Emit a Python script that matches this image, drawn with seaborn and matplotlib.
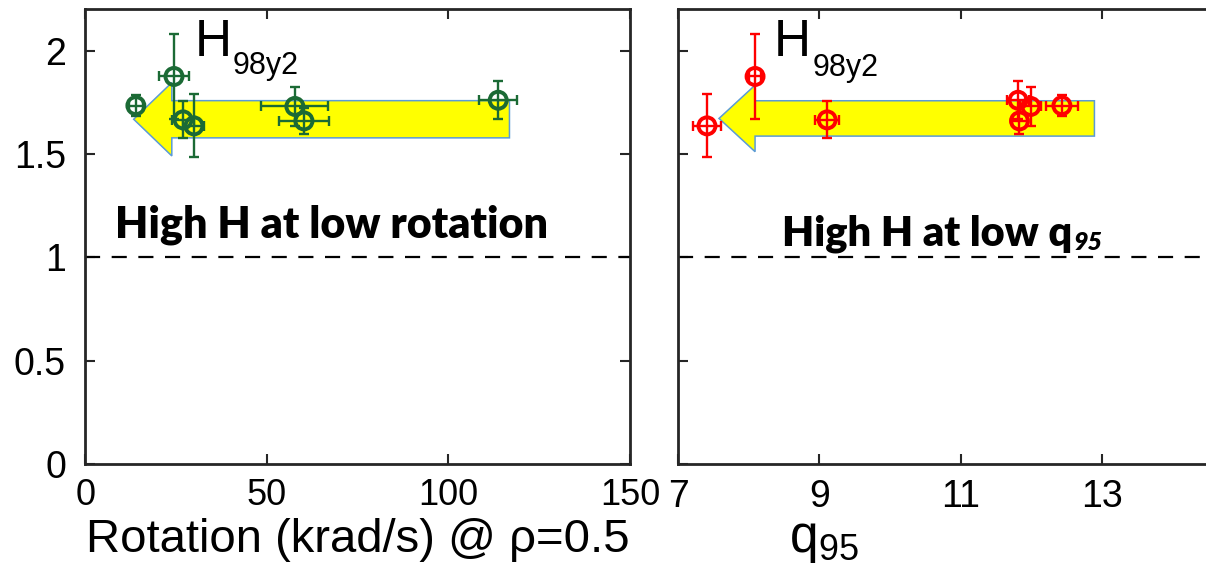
import matplotlib
matplotlib.use("Agg")
import matplotlib.pyplot as plt
from matplotlib import font_manager
from matplotlib.patches import FancyArrow
from matplotlib.ticker import FuncFormatter
import pandas as pd
import seaborn as sns

# Seven discharges: H98y2 confinement factor against rotation and q95
rotation = [29.9, 24.4, 26.9, 113.7, 57.7, 60.2, 13.9]          # krad/s at rho=0.5
rotation_err = [2.9, 4.1, 3.0, 5.3, 9.2, 6.9, 2.0]
q95 = [7.41, 8.09, 9.11, 11.81, 11.99, 11.83, 12.43]
q95_err = [0.20, 0.08, 0.17, 0.15, 0.15, 0.10, 0.23]
h98 = [1.636, 1.875, 1.665, 1.760, 1.730, 1.660, 1.734]
h98_err = [0.152, 0.206, 0.090, 0.092, 0.093, 0.063, 0.050]

y_ticks = [0, 0.5, 1, 1.5, 2]
rot_ticks = [0, 50, 100, 150]
q_ticks = [7, 9, 11, 13]

# Trend arrows (tail x, tip x, centre y, shaft width, head width, head length)
rot_arrow = (116.8, 13.3, 1.668, 0.180, 0.355, 10.5)
q_arrow = (12.89, 7.58, 1.672, 0.171, 0.322, 0.51)

GREEN = "#1b6a35"
RED = "#ff0000"
SPINE = "#262626"

sns.set_theme(style="ticks")
plt.rcParams["font.family"] = ["Liberation Sans", "DejaVu Sans"]
plt.rcParams["mathtext.fontset"] = "custom"
plt.rcParams["mathtext.rm"] = "Liberation Sans"
for key in ["text.color", "axes.labelcolor", "xtick.labelcolor", "ytick.labelcolor"]:
    plt.rcParams[key] = "black"

names = {f.name for f in font_manager.fontManager.ttflist}
NARROW = "Liberation Sans Narrow" if "Liberation Sans Narrow" in names else None
BOLD_FAMILY = ["Lato", "DejaVu Sans"]

df = pd.DataFrame({"rotation": rotation, "rotation_err": rotation_err,
                   "q95": q95, "q95_err": q95_err,
                   "h98": h98, "h98_err": h98_err})

W, H = 1206, 572
fig = plt.figure(figsize=(W / 100, H / 100), dpi=100)
ax_l = fig.add_axes([85.4 / W, (H - 464) / H, (630 - 85.4) / W, (464 - 9.3) / H])
ax_r = fig.add_axes([678 / W, (H - 464) / H, 565.6 / W, (464 - 9.3) / H])


def draw_panel(ax, xcol, xerr_col, color, arrow):
    tail, tip, yc, w, hw, hl = arrow
    ax.add_patch(FancyArrow(tail, yc, tip - tail, 0, width=w, head_width=hw,
                            head_length=hl, length_includes_head=True,
                            facecolor="#ffff00", edgecolor="#5b9bd5",
                            linewidth=1.1, zorder=2))
    ax.axhline(1, color="black", lw=1.6, linestyle=(0, (6.8, 5.2)), zorder=1)
    ax.errorbar(df[xcol], df["h98"], xerr=df[xerr_col], yerr=df["h98_err"],
                fmt="none", ecolor=color, elinewidth=1.7, capsize=3.6,
                capthick=1.7, zorder=3)
    sns.scatterplot(data=df, x=xcol, y="h98", ax=ax, marker="o", s=150,
                    color=color, linewidth=2.8, zorder=4, legend=False)
    pts = ax.collections[-1]
    pts.set_facecolor("none")
    pts.set_edgecolor(color)
    for side in ["left", "right", "top", "bottom"]:
        ax.spines[side].set_color(SPINE)
        ax.spines[side].set_linewidth(2.0)
        ax.spines[side].set_visible(True)
    ax.set_ylim(0, 2.2)
    ax.set_yticks(y_ticks)
    ax.yaxis.set_major_formatter(FuncFormatter(lambda v, p: f"{v:g}"))


draw_panel(ax_l, "rotation", "rotation_err", GREEN, rot_arrow)
draw_panel(ax_r, "q95", "q95_err", RED, q_arrow)

# Left panel axes
ax_l.set_xlim(0, 150)
ax_l.set_xticks(rot_ticks)
ax_l.tick_params(axis="both", direction="in", length=7, width=1.5, color=SPINE,
                 labelcolor="black", top=True, right=True)
ax_l.tick_params(axis="y", labelsize=27, pad=14)
ax_l.tick_params(axis="x", labelsize=29 if NARROW else 26, pad=10)
label_kw = {"family": NARROW, "fontsize": 40} if NARROW else {"fontsize": 34}
if NARROW:
    for lab in ax_l.get_xticklabels():
        lab.set_family(NARROW)
ax_l.set_xlabel(r"Rotation (krad/s) @ ρ=0.5", labelpad=4, color="black", **label_kw)
ax_l.set_ylabel("")

# Right panel axes
ax_r.set_xlim(7, 15)
ax_r.set_xticks(q_ticks)
ax_r.tick_params(axis="both", direction="in", length=7, width=1.5, color=SPINE,
                 labelcolor="black", top=True, right=False, labelleft=False)
ax_r.tick_params(axis="x", labelsize=27, pad=11)
ax_r.set_xlabel(r"$\mathregular{q_{95}}$", fontsize=37, labelpad=0, color="black")
ax_r.xaxis.set_label_coords(0.258, -0.115)
ax_r.set_ylabel("")

# Panel annotations
for ax, hx, sx, sy in [(ax_l, 30.0, 40.6, 1.889), (ax_r, 8.35, 8.91, 1.879)]:
    ax.text(hx, 1.976, "H", fontsize=37, ha="left", va="baseline", color="black")
    ax.text(sx, sy, "98y2", fontsize=22, ha="left", va="baseline", color="black")

ax_l.text(67.9, 1.097, "High H at low rotation", family=BOLD_FAMILY,
          fontweight="heavy", fontsize=31, ha="center", va="baseline", color="black")
t = ax_r.text(8.47, 1.058, "High H at low q", family=BOLD_FAMILY,
              fontweight="heavy", fontsize=30, ha="left", va="baseline", color="black")
ax_r.annotate("95", xy=(1, 0), xycoords=t, xytext=(1, -1),
              textcoords="offset points", family=BOLD_FAMILY,
              fontweight="heavy", fontstyle="italic", fontsize=18,
              ha="left", va="bottom", color="black")

fig.savefig("out.png", dpi=100)
